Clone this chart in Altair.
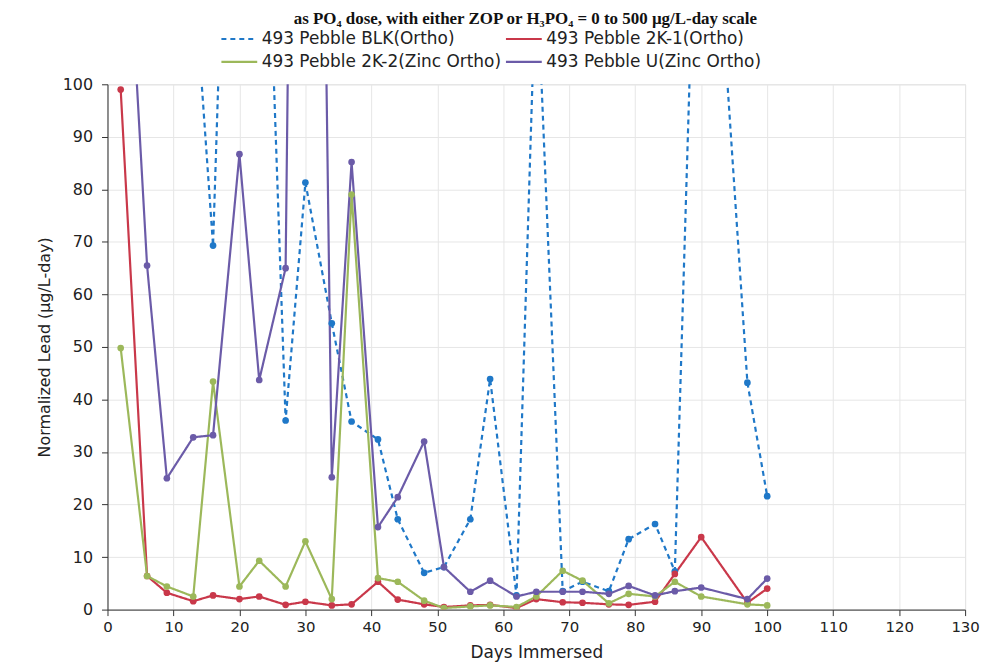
import altair as alt
import pandas as pd

days = [2, 6, 9, 13, 16, 20, 23, 27, 30, 34, 37, 41, 44, 48, 51, 55, 58, 62, 65, 69, 72, 76, 79, 83, 86, 90, 97, 100]

blk = [300, 260, 200, 123, 69.3, 226, 181, 36, 81.3, 54.5, 35.8, 32.4, 17.2, 7.0, 8.1, 17.2, 43.9, 2.7, 124, 3.5, 5.3, 3.5, 13.4, 16.3, 7.3, 175, 43.2, 21.6]
k1 = [99, 6.4, 3.2, 1.6, 2.7, 2.0, 2.5, 0.9, 1.5, 0.8, 1.0, 5.3, 1.9, 1.0, 0.5, 0.8, 0.9, 0.3, 2.0, 1.4, 1.3, 1.0, 0.9, 1.5, 6.8, 13.8, 1.3, 4.0]
k2 = [49.8, 6.4, 4.4, 2.5, 43.4, 4.4, 9.3, 4.4, 13.0, 2.0, 79.0, 6.0, 5.3, 1.7, 0.3, 0.6, 0.8, 0.5, 2.5, 7.4, 5.5, 1.2, 3.0, 2.5, 5.3, 2.5, 1.0, 0.8]
u = [155, 65.5, 25.0, 32.8, 33.2, 86.7, 43.7, 65.0, 400, 25.2, 85.2, 15.7, 21.4, 32.0, 8.1, 3.4, 5.5, 2.5, 3.4, 3.4, 3.4, 3.0, 4.5, 2.7, 3.5, 4.2, 2.0, 5.9]

names = ["493 Pebble BLK(Ortho)", "493 Pebble 2K-1(Ortho)",
         "493 Pebble 2K-2(Zinc Ortho)", "493 Pebble U(Zinc Ortho)"]
colors = ["#1f78c8", "#c9384a", "#9cb85a", "#6b5ba8"]
dashes = [[5, 4], [1, 0], [1, 0], [1, 0]]

x_ticks = list(range(0, 131, 10))
y_ticks = list(range(0, 101, 10))

title_text = ["as PO\u2084 dose, with either ZOP or H\u2083PO\u2084 = 0 to 500 \u00b5g/L-day scale"]
x_title = "Days Immersed"
y_title = "Normalized Lead (\u00b5g/L-day)"

rows = []
for name, vals in zip(names, [blk, k1, k2, u]):
    for d, v in zip(days, vals):
        rows.append({"series": name, "day": d, "value": v})
df = pd.DataFrame(rows)

legend = alt.Legend(
    title=None, orient="none", legendX=113, legendY=-65,
    direction="horizontal", columns=2, gridAlign="none",
    symbolType="stroke", symbolSize=1296, symbolStrokeWidth=2.2,
    labelFont="DejaVu Sans", labelFontSize=17, labelColor="#222",
    labelLimit=500, labelOffset=3, columnPadding=0, rowPadding=-5,
)

xenc = alt.X("day:Q", scale=alt.Scale(domain=[0, 130], nice=False),
             axis=alt.Axis(values=x_ticks, title=x_title, grid=True,
                           gridColor="#e6e6e6", domainColor="#333",
                           tickColor="#333", tickSize=6, labelPadding=4,
                           labelFlush=False,
                           labelFont="DejaVu Sans", labelFontSize=15,
                           labelColor="#222", titleFont="DejaVu Sans",
                           titleFontSize=17, titleFontWeight="normal",
                           titleColor="#222", titlePadding=10))
yenc = alt.Y("value:Q", scale=alt.Scale(domain=[0, 100], nice=False),
             axis=alt.Axis(values=y_ticks, title=y_title, grid=True,
                           gridColor="#e6e6e6", domainColor="#333",
                           tickColor="#333", tickSize=6, labelPadding=9,
                           labelFlush=False,
                           labelFont="DejaVu Sans", labelFontSize=16,
                           labelColor="#222", titleFont="DejaVu Sans",
                           titleFontSize=16, titleFontWeight="normal",
                           titleColor="#222", titlePadding=10))

color = alt.Color("series:N", scale=alt.Scale(domain=names, range=colors), legend=legend)
dash = alt.StrokeDash("series:N", scale=alt.Scale(domain=names, range=dashes), legend=legend)

lines = alt.Chart(df).mark_line(clip=True, strokeWidth=2.2).encode(
    x=xenc, y=yenc, color=color, strokeDash=dash, order="day:Q")
points = alt.Chart(df).mark_circle(clip=True, size=45, opacity=1).encode(
    x=xenc, y=yenc,
    color=alt.Color("series:N", scale=alt.Scale(domain=names, range=colors), legend=None))

title = alt.Chart(pd.DataFrame({"t": title_text})).mark_text(
    font="Liberation Serif", fontSize=17, fontWeight="bold", color="#111",
    align="center", baseline="alphabetic"
).encode(text="t:N", x=alt.value(420), y=alt.value(-61))

chart = alt.layer(lines, points, title).properties(
    width=862, height=528,
    autosize=alt.AutoSizeParams(type="none"),
    padding={"left": 100, "top": 75, "right": 20, "bottom": 52},
).configure_view(stroke=None).configure(background="white")

chart.save("out.html", embed_options={"renderer": "svg", "actions": False})
